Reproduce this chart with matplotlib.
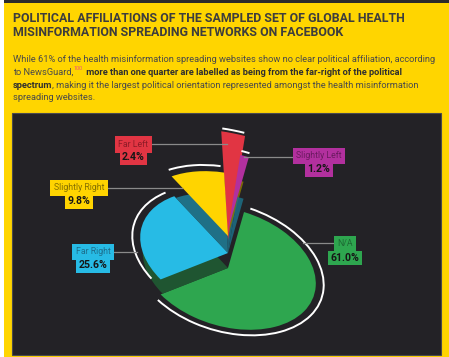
import numpy as np
import matplotlib.pyplot as plt
from matplotlib.patches import Wedge, Arc, Rectangle
from matplotlib.transforms import Affine2D

plt.rcParams['font.family'] = ['Roboto', 'DejaVu Sans']

# ---- data ----
labels = ['N/A', 'Slightly Left', 'Far Left', 'Slightly Right', 'Far Right']
shares = [61.0, 1.2, 2.4, 9.8, 25.6]
colors = ['#2ea64f', '#b2309e', '#e13543', '#ffd400', '#27bbe5']
label_ink = ['#1d6b34', '#6b1a60', '#8e1b27', '#857000', '#1d6f8d']

title_lines = ['POLITICAL AFFILIATIONS OF THE SAMPLED SET OF GLOBAL HEALTH',
               'MISINFORMATION SPREADING NETWORKS ON FACEBOOK']
body_lines = [
    [('While 61% of the health misinformation spreading websites show no clear political affiliation, according', 'n')],
    [('to NewsGuard,', 'n'), ('100', 's'),
     (' more than one quarter are labelled as being from the far-right of the political', 'b')],
    [('spectrum', 'b'), (', making it the largest political orientation represented amongst the health misinformation', 'n')],
    [('spreading websites.', 'n')],
]

# ---- layout ----
W, H = 449, 357
fig = plt.figure(figsize=(W / 100, H / 100), dpi=100, facecolor='#ffd500')
ax = fig.add_axes([0, 0, 1, 1])
ax.set_xlim(0, W)
ax.set_ylim(H, 0)
ax.axis('off')
ren = fig.canvas.get_renderer()

ax.add_patch(Rectangle((0, 0), 4, H, fc='white', ec='none'))
ax.add_patch(Rectangle((4, 0), W - 4, 3, fc='#2b2b2b', ec='none'))
ax.add_patch(Rectangle((12, 113), 429, 242, fc='#232226', ec='#4a4a4e', lw=0.8))


def width_of(s, **kw):
    t = ax.text(0, 0, s, **kw)
    w = t.get_window_extent(ren).width
    t.remove()
    return w


# title, sized so the first line spans the same width as the original
tw = width_of(title_lines[0], fontsize=10, fontweight='bold')
tsize = 10 * 394 / tw
for y, line in zip([21.5, 35.5], title_lines):
    ax.text(13, y, line, fontsize=tsize, fontweight='bold', color='#3d3d3d', va='baseline')

# body paragraph with mixed weights
ink = '#4a4a4a'
bw = width_of(body_lines[0][0][0], fontsize=8)
bsize = 8 * 426 / bw
for y, segs in zip([62.5, 75.0, 87.7, 100.3], body_lines):
    x = 13
    for s, kind in segs:
        if kind == 's':
            kw = dict(fontsize=bsize * 0.6, color='#f0507c')
            ax.text(x + 0.5, y - 4.5, s, va='baseline', **kw)
            x += width_of(s, **kw) + 1
            continue
        kw = dict(fontsize=bsize, color='#2f2f2f' if kind == 'b' else ink,
                  fontweight='bold' if kind == 'b' else 'normal')
        ax.text(x, y, s, va='baseline', **kw)
        x += width_of(s, **kw)

# ---- tilted, stepped pie ----
cx, cy = 228, 268
m11, m12, m21, m22 = 85, 22, -30, 54      # unit circle -> screen (y up)
lift = [0, 38, 28, 32, 15]
radius = [1.0, 1.3, 1.8, 1.05, 1.0]
arc_pad = [0.09, 0.07, 0.05, 0.1, 0.09]
# darker "steps" under each raised slice: (lift, colour)
steps = [[], [(32, '#8a7600'), (15, '#1d6f86')], [(15, '#1d6f86')],
         [(15, '#1f7f98')], [(0, '#1f5f33')]]

start = 94 - 360 * shares[0] / sum(shares)
edges = start + 360 * np.concatenate([[0], np.cumsum(shares)]) / sum(shares)


def tr(h):
    return Affine2D.from_values(m11, -m21, m12, -m22, cx, cy - h) + ax.transData


order = np.argsort(lift, kind='stable')
for i in order:
    t1, t2 = edges[i], edges[i + 1]
    r = radius[i]
    for h, c in steps[i]:
        ax.add_patch(Wedge((0, 0), 0.97, t1, t2, fc=c, ec='none', alpha=0.85,
                           transform=tr(h)))
    ax.add_patch(Wedge((0, 0), r, t1, t2, fc=colors[i], ec='none', transform=tr(lift[i])))
    m = min(3, (t2 - t1) * 0.05)
    ra = r + arc_pad[i]
    ax.add_patch(Arc((0, 0), 2 * ra, 2 * ra, theta1=t1 + m, theta2=t2 - m,
                     color='white', lw=1.4, transform=tr(lift[i])))

# ---- callouts ----
label_pos = [(345, 244), (319, 156), (133.5, 144.5), (79, 188), (93, 252)]
value_dy = [14, 13.5, 13, 13.5, 13.5]
leaders = [((303, 333), 243), ((244, 295), 157), ((152, 227), 144),
           ((106, 182), 188), ((114, 137), 252)]

for (x0, x1), y in leaders:
    ax.plot([x0, x1], [y, y], color='#8a8a8a', lw=0.9)

for i, (x, y) in enumerate(label_pos):
    ax.text(x, y, labels[i], fontsize=6.3, color=label_ink[i], ha='center', va='center',
            bbox=dict(boxstyle='square,pad=0.42', fc=colors[i], ec='none'))
    ax.text(x, y + value_dy[i], f'{shares[i]:.1f}%', fontsize=7.6, fontweight='bold',
            color='#161616', ha='center', va='center',
            bbox=dict(boxstyle='square,pad=0.22', fc=colors[i], ec='none'))

fig.savefig('out.png', dpi=100, facecolor=fig.get_facecolor())
